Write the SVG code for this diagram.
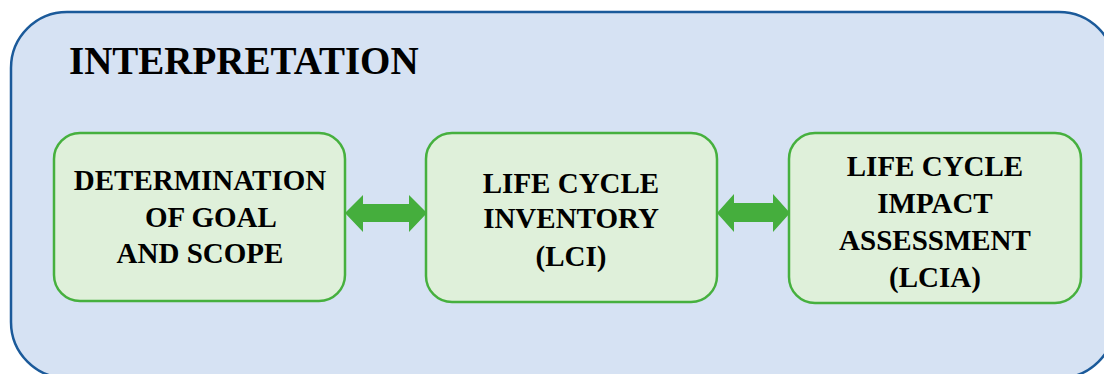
<svg xmlns="http://www.w3.org/2000/svg" width="1104" height="374" viewBox="0 0 1104 374">
<style>
.outer{fill:#d6e2f3;stroke:#1b5a9a;stroke-width:2.5}
.box{fill:#dff0da;stroke:#46b03e;stroke-width:2.5}
.arrow{fill:#45ae3d}
text{font-family:"Liberation Serif","Times New Roman",serif;font-weight:bold;fill:#000}
.lbl{font-size:29px;text-anchor:middle}
.title{font-size:39px}
</style>
<rect width="1104" height="374" fill="#ffffff"/>
<g id="interpretation">
<rect class="outer" x="11" y="12" width="1104" height="366" rx="56" ry="56"/>
<text class="title" x="69" y="74">INTERPRETATION</text>
</g>
<g id="goal-scope">
<rect class="box" x="54" y="133" width="291" height="168" rx="26" ry="26"/>
<text class="lbl" x="200" y="190">DETERMINATION</text>
<text class="lbl" x="211" y="227">OF GOAL</text>
<text class="lbl" x="200" y="263">AND SCOPE</text>
</g>
<g id="lci">
<rect class="box" x="426" y="133" width="291" height="169" rx="26" ry="26"/>
<text class="lbl" x="571" y="193">LIFE CYCLE</text>
<text class="lbl" x="571" y="228">INVENTORY</text>
<text class="lbl" x="571" y="266">(LCI)</text>
</g>
<g id="lcia">
<rect class="box" x="789" y="133" width="292" height="170" rx="26" ry="26"/>
<text class="lbl" x="935" y="176">LIFE CYCLE</text>
<text class="lbl" x="935" y="213">IMPACT</text>
<text class="lbl" x="935" y="250">ASSESSMENT</text>
<text class="lbl" x="935" y="287">(LCIA)</text>
</g>
<g id="connectors">
<polygon class="arrow" points="345,213 363,195 363,204 409,204 409,195 427,213 409,232 409,222 363,222 363,232"/>
<polygon class="arrow" points="717,213 734,194 734,203 773,203 773,194 790,213 773,232 773,222 734,222 734,232"/>
</g>
</svg>
